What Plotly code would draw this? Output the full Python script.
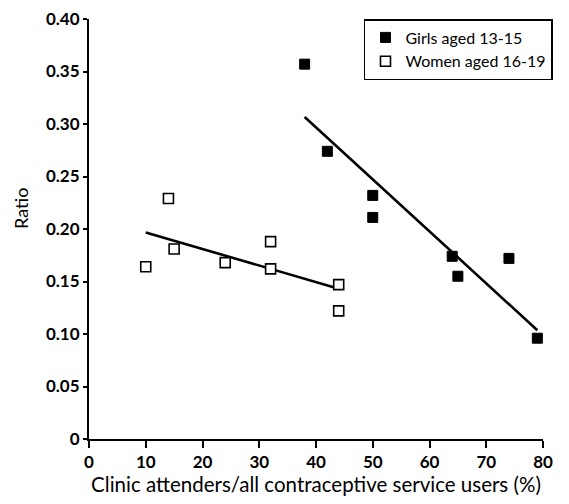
import numpy as np
import plotly.graph_objects as go

girls_x = [38, 42, 50, 50, 64, 65, 74, 79]
girls_y = [0.357, 0.274, 0.232, 0.211, 0.174, 0.155, 0.172, 0.096]
women_x = [10, 14, 15, 24, 32, 32, 44, 44]
women_y = [0.164, 0.229, 0.181, 0.168, 0.188, 0.162, 0.147, 0.122]

x_ticks = [0, 10, 20, 30, 40, 50, 60, 70, 80]
y_ticks = [0, 0.05, 0.10, 0.15, 0.20, 0.25, 0.30, 0.35, 0.40]
y_ticktext = ["0", "0.05", "0.10", "0.15", "0.20", "0.25", "0.30", "0.35", "0.40"]

FONT = "Lato"

def fit(xs, ys):
    m, b = np.polyfit(xs, ys, 1)
    xl = np.array([min(xs), max(xs)], dtype=float)
    return xl, m * xl + b

fig = go.Figure()

gx, gy = fit(girls_x, girls_y)
wx, wy = fit(women_x, women_y)
fig.add_trace(go.Scatter(x=gx, y=gy, mode="lines", line=dict(color="black", width=2.6),
                         showlegend=False, hoverinfo="skip"))
fig.add_trace(go.Scatter(x=wx, y=wy, mode="lines", line=dict(color="black", width=2.6),
                         showlegend=False, hoverinfo="skip"))

fig.add_trace(go.Scatter(x=girls_x, y=girls_y, mode="markers", name="Girls aged 13-15",
                         marker=dict(symbol="square", size=10, color="black",
                                     line=dict(color="black", width=1)),
                         cliponaxis=False))
fig.add_trace(go.Scatter(x=women_x, y=women_y, mode="markers", name="Women aged 16-19",
                         marker=dict(symbol="square", size=10, color="white",
                                     line=dict(color="black", width=1.6)),
                         cliponaxis=False))

# The page body adds an 8px margin, so the figure is 8px smaller on each side.
fig.update_layout(
    width=561, height=496,
    margin=dict(l=81, r=26, t=11, b=65, autoexpand=False),
    paper_bgcolor="white", plot_bgcolor="white",
    font=dict(family=FONT, color="black", size=16),
    legend=dict(x=1.022, xanchor="right", y=1.0, yanchor="top",
                bordercolor="black", borderwidth=1.5, bgcolor="white",
                font=dict(family=FONT, size=16, color="black"),
                tracegroupgap=0),
    xaxis=dict(range=[0, 80], tickvals=x_ticks, showgrid=False, zeroline=False,
               automargin=False, ticklabeloverflow="allow",
               showline=True, linecolor="black", linewidth=2,
               ticks="outside", ticklen=7, tickwidth=2, tickcolor="black",
               tickfont=dict(family=FONT, size=17, color="black", weight="bold"),
               title=dict(text="Clinic attenders/all contraceptive service users (%)",
                          font=dict(family=FONT, size=20.5, color="black"), standoff=4)),
    yaxis=dict(range=[0, 0.4], tickvals=y_ticks, ticktext=y_ticktext, showgrid=False,
               automargin=False, ticklabeloverflow="allow",
               zeroline=False, showline=True, linecolor="black", linewidth=2,
               ticks="outside", ticklen=4, tickwidth=2, tickcolor="black",
               tickfont=dict(family=FONT, size=17, color="black", weight="bold")),
    annotations=[dict(text="Ratio", textangle=-90, xref="paper", yref="paper",
                      x=-0.15, y=0.55, xanchor="center", yanchor="middle",
                      showarrow=False, font=dict(family=FONT, size=18, color="black"))],
)

fig.write_html("out.html")
